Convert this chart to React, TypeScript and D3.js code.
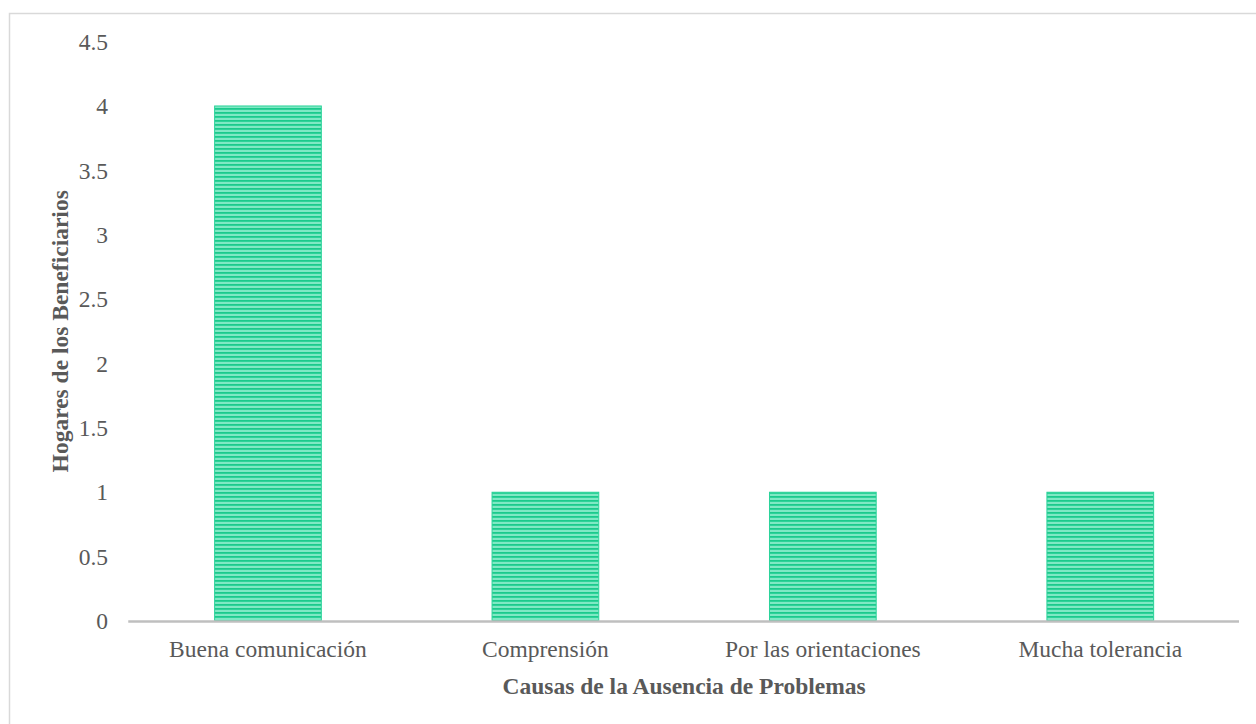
import React from "react";
import * as d3 from "d3";

const categories = ["Buena comunicación", "Comprensión", "Por las orientaciones", "Mucha tolerancia"];
const values = [4, 1, 1, 1];
const yTicks = [0, 0.5, 1, 1.5, 2, 2.5, 3, 3.5, 4, 4.5];
const xTitle = "Causas de la Ausencia de Problemas";
const yTitle = "Hogares de los Beneficiarios";

export default function App() {
  const W = 1256, H = 724;
  const left = 129.25, right = 1239, top = 41.6, bottom = 621;
  const x = d3.scaleBand().domain(categories).range([left, right]).paddingInner(1.6 / 2.6).paddingOuter(0.8 / 2.6);
  const y = d3.scaleLinear().domain([0, 4.5]).range([bottom, top]);
  const font = "'Liberation Serif', 'Times New Roman', serif";
  const fs = 23.5;
  return (
    <svg width={W} height={H} style={{ position: "absolute", left: 0, top: 0 }}>
      <defs>
        <pattern id="stripes" width="8" height="4" patternUnits="userSpaceOnUse">
          <rect width="8" height="4" fill="#3FDCA7" />
          <rect y="0" width="8" height="1.5" fill="#1CC98C" />
          <rect y="2.5" width="8" height="1" fill="#BFF5E1" />
        </pattern>
      </defs>
      <rect x={0} y={0} width={W} height={H} fill="#fff" />
      <path d={`M9.5,${H} V13.5 H${W}`} fill="none" stroke="#D9D9D9" strokeWidth={1.5} />
      {yTicks.map((t) => (
        <text key={t} x={108} y={y(t)} dy="0.35em" textAnchor="end" fontFamily={font} fontSize={fs} fill="#595959">{t}</text>
      ))}
      {categories.map((c, i) => (
        <rect key={c} x={x(c)!} y={y(values[i])} width={x.bandwidth()} height={y(0) - y(values[i])} fill="url(#stripes)" stroke="#2BD39A" strokeWidth={1} />
      ))}
      <line x1={left - 1} x2={right} y1={y(0) + 0.5} y2={y(0) + 0.5} stroke="#BFBFBF" strokeWidth={2.5} />
      {categories.map((c) => (
        <text key={c} x={x(c)! + x.bandwidth() / 2} y={649} dy="0.35em" textAnchor="middle" fontFamily={font} fontSize={fs} fill="#595959">{c}</text>
      ))}
      <text x={(left + right) / 2} y={686} dy="0.35em" textAnchor="middle" fontFamily={font} fontSize={fs} fontWeight="bold" fill="#595959">{xTitle}</text>
      <text transform={`translate(60,${(top + bottom) / 2}) rotate(-90)`} dy="0.35em" textAnchor="middle" fontFamily={font} fontSize={fs} fontWeight="bold" fill="#595959">{yTitle}</text>
    </svg>
  );
}
